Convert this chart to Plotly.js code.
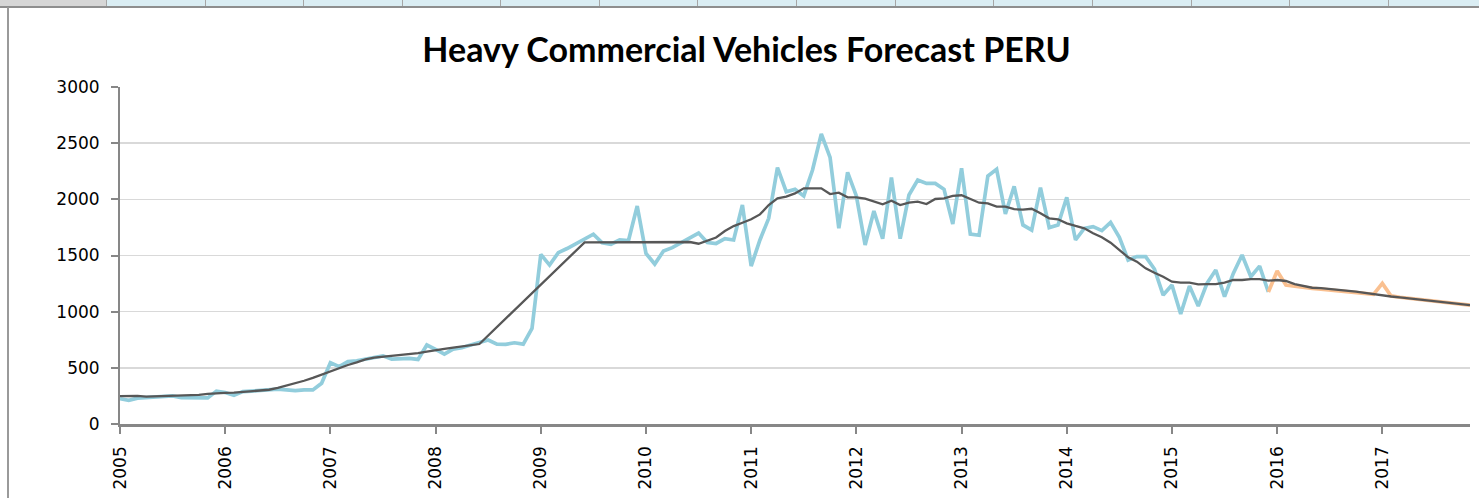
<!DOCTYPE html>
<html>
<head>
<meta charset="utf-8">
<script src="https://cdn.plot.ly/plotly-3.0.1.min.js"></script>
<style>
  html, body { margin: 0; padding: 0; background: #fff; }
  #wrap { position: relative; width: 1479px; height: 498px; overflow: hidden; }
  #chart { position: absolute; left: 0; top: 0; width: 1479px; height: 498px; }
  .hdr { position: absolute; top: 0; height: 6px; background: #DAEDF3; border-right: 2px solid #A6A6A6; box-sizing: border-box; }
  #hline { position: absolute; left: 0; top: 6px; width: 1479px; height: 2px; background: #8E8E8E; }
  #vline { position: absolute; left: 7px; top: 7px; width: 2px; height: 491px; background: #9A9A9A; }
</style>
</head>
<body>
<div id="wrap">
  <div id="chart"></div>
  <div id="deco"></div>
  <div id="hline"></div>
  <div id="vline"></div>
</div>
<script>
// ---- Data ----
const startYear = 2005;
const monthCount = 155; // Jan 2005 .. Nov 2017
const yearTickLabels = ['2005','2006','2007','2008','2009','2010','2011','2012','2013','2014','2015','2016','2017'];

// Actual monthly sales, Jan 2005 .. Dec 2015
const actualValues = [
  225,210,230,235,240,240,250,235,235,238,232,293,
  280,255,288,293,300,309,310,303,297,303,303,362,
  546,510,555,563,575,593,607,578,578,584,575,703,
  664,623,667,679,703,723,747,711,709,723,711,850,
  1510,1415,1525,1562,1607,1650,1690,1613,1600,1638,1632,1940,
  1519,1424,1540,1570,1613,1660,1700,1616,1607,1650,1638,1950,
  1406,1638,1831,2282,2068,2089,2030,2261,2582,2374,1742,2240,
  2030,1594,1896,1650,2195,1650,2039,2172,2142,2142,2089,1780,
  2276,1690,1680,2207,2267,1870,2115,1772,1727,2104,1748,1772,
  2018,1638,1742,1757,1721,1795,1662,1460,1490,1490,1380,1148,
  1238,979,1229,1050,1252,1371,1134,1341,1504,1311,1406,1175
];

// Forecast, Dec 2015 .. Nov 2017
const forecastStartIndex = 131;
const forecastValues = [
  1175,1362,1237,1225,1215,1208,1200,1192,1185,1178,1170,1162,
  1154,1252,1140,1128,1120,1112,1103,1094,1085,1077,1068,1059
];

// Trend line, Jan 2005 .. Nov 2017 (null = empty cell, line connects across)
const trendValues = [
  249,250,251,244,246,248,250,252,255,260,268,275,
  277,279,285,290,298,305,322,341,362,385,410,440,
  466,495,525,548,575,590,598,605,610,620,630,645,
  659,668,680,690,700,712,null,null,null,null,null,null,
  null,null,null,null,null,1617,null,null,null,null,null,null,
  null,null,null,null,null,1620,1605,1630,1660,1718,1762,1792,
  1822,1866,1949,2009,2024,2053,2098,2098,2098,2047,2059,2018,
  2018,2006,1979,1955,1988,1949,1970,1979,1958,2003,2009,2030,
  2036,2006,1970,1964,1935,1935,1912,1908,1916,1876,1831,1822,
  1786,1763,1742,1698,1662,1614,1549,1484,1445,1386,1347,1311,
  1267,1258,1258,1243,1246,1246,1258,1282,1282,1290,1290,1276,
  1282,1273,1246,1231,1213,1210,1203,1195,1187,1178,1168,1156,
  1147,1135,1127,1118,1110,1101,1092,1084,1075,1067,1058
];

// ---- Category labels (months) ----
const months = [];
for (let i = 0; i < monthCount; i++) {
  const y = startYear + Math.floor(i / 12);
  const m = (i % 12) + 1;
  months.push(y + '-' + (m < 10 ? '0' + m : m));
}
const yearTickVals = yearTickLabels.map(y => y + '-01');

const traces = [
  {
    x: months.slice(0, actualValues.length), y: actualValues,
    type: 'scatter', mode: 'lines', name: 'Actual',
    line: { color: '#92CDDC', width: 3.7 }
  },
  {
    x: months.slice(forecastStartIndex, forecastStartIndex + forecastValues.length), y: forecastValues,
    type: 'scatter', mode: 'lines', name: 'Forecast',
    line: { color: '#FAC090', width: 3.7 }
  },
  {
    x: months.slice(0, trendValues.length), y: trendValues,
    type: 'scatter', mode: 'lines', name: 'Trend', connectgaps: true,
    line: { color: '#575757', width: 2.3 }
  }
];

const tickFont = { family: 'DejaVu Sans', size: 17, color: '#000' };

const layout = {
  width: 1479, height: 498,
  margin: { l: 120, r: 9, t: 87, b: 74 },
  paper_bgcolor: '#fff', plot_bgcolor: '#fff',
  showlegend: false,
  title: {
    text: 'Heavy Commercial Vehicles Forecast PERU',
    font: { family: 'Lato', size: 34, color: '#000', weight: 700 },
    x: 746.5 / 1479, xref: 'container', xanchor: 'center',
    y: 1 - 50 / 498, yref: 'container', yanchor: 'middle'
  },
  xaxis: {
    type: 'category', categoryorder: 'array', categoryarray: months,
    range: [0, monthCount - 1],
    tickmode: 'array', tickvals: yearTickVals, ticktext: yearTickLabels,
    tickangle: -90, ticks: 'outside', ticklen: 7, tickwidth: 2, tickcolor: '#878787',
    showline: true, linecolor: '#878787', linewidth: 2.5,
    showgrid: false, zeroline: false, tickfont: tickFont, ticklabelstandoff: 6
  },
  yaxis: {
    range: [0, 3000], dtick: 500, tick0: 0,
    ticks: 'outside', ticklen: 7, tickwidth: 2, tickcolor: '#878787',
    showline: true, linecolor: '#878787', linewidth: 2,
    showgrid: true, gridcolor: '#D9D9D9', gridwidth: 1.5,
    zeroline: false, tickfont: tickFont, ticklabelstandoff: 8
  }
};

Plotly.newPlot('chart', traces, layout, { displayModeBar: false, staticPlot: true });

// Spreadsheet header cells above the chart
const deco = document.getElementById('deco');
const cellEdges = [0, 107, 206, 304, 403, 501, 600, 698, 797, 896, 994, 1093, 1192, 1290, 1389, 1488];
for (let i = 0; i < cellEdges.length - 1; i++) {
  const d = document.createElement('div');
  d.className = 'hdr';
  d.style.left = cellEdges[i] + 'px';
  d.style.width = (cellEdges[i + 1] - cellEdges[i] + 1) + 'px';
  if (i === 0) d.style.background = '#D6D6D6';
  deco.appendChild(d);
}
</script>
</body>
</html>
